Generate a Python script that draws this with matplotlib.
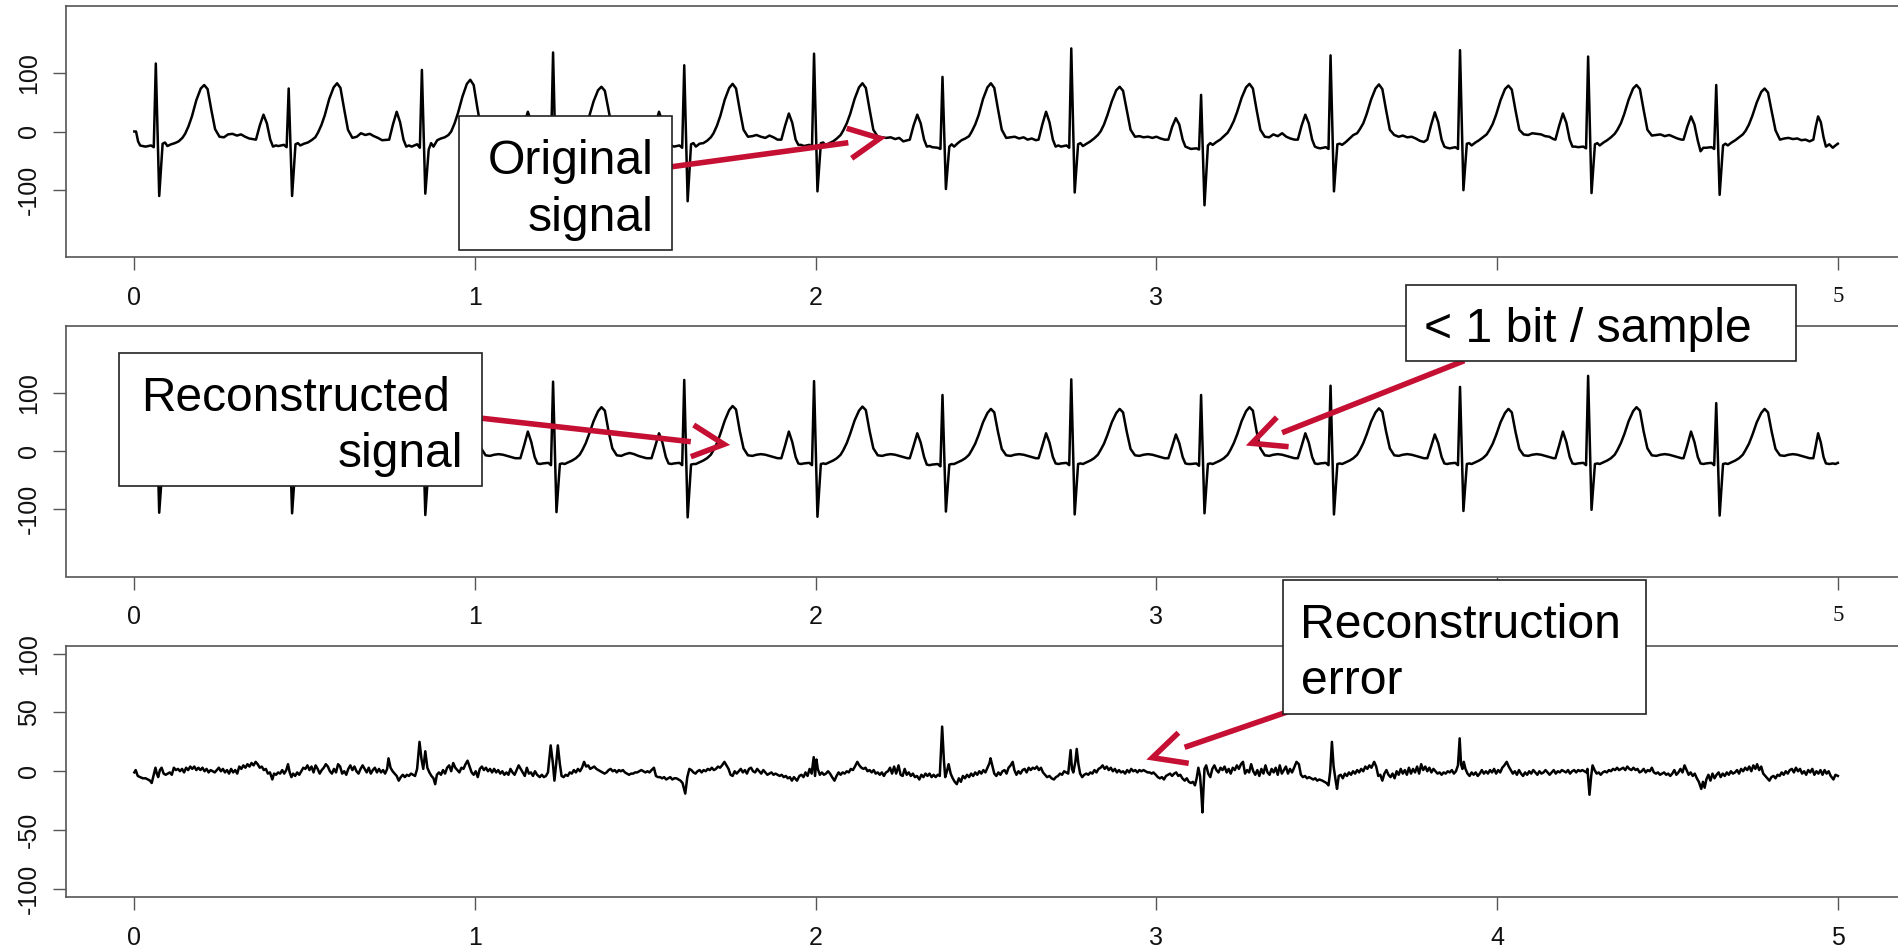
import numpy as np
import matplotlib
matplotlib.use('Agg')
import matplotlib.pyplot as plt
from matplotlib.lines import Line2D
from matplotlib.patches import Rectangle

plt.rcParams['font.family'] = ['Liberation Sans', 'DejaVu Sans']
plt.rcParams['axes.unicode_minus'] = False

W, H = 1899, 952

# ---------------- data ----------------
x_ticks = [0, 1, 2, 3, 4, 5]
# the "4" label of the two upper panels is hidden behind the annotation boxes
x_tick_labels_top = ['0', '1', '2', '3', '', '5']
x_tick_labels = ['0', '1', '2', '3', '4', '5']
y_ticks_sig = [-100, 0, 100]
y_tick_labels_sig = ['-100', '0', '100']
y_ticks_err = [-100, -50, 0, 50, 100]
y_tick_labels_err = ['-100', '-50', '0', '50', '100']

# R-peak times of the 13 beats (s)
beat_r_times = [0.063, 0.453, 0.844, 1.229, 1.614, 1.995, 2.372,
                2.750, 3.131, 3.511, 3.891, 4.267, 4.643]
# time of each vertex relative to the beat's R peak (P wave, PR, QRS, ST, T, baseline)
beat_offsets = [-0.096, -0.085, -0.074, -0.064, -0.054, -0.046, -0.038, -0.030,
                -0.014, -0.006, 0.000, 0.010, 0.020, 0.027, 0.034, 0.045,
                0.056, 0.067, 0.078, 0.086, 0.096, 0.106, 0.119, 0.132,
                0.142, 0.152, 0.163, 0.174, 0.187, 0.200, 0.212, 0.225,
                0.238, 0.250, 0.262, 0.274]

orig_lead_t = [0.000, 0.005, 0.011, 0.017, 0.024]
orig_lead_v = [0, 0, -17, -24, -25]
orig_beats = [
    [None, None, None, None, None, None, None, -26, -24, -27, 117, -111, -21, -19, -25, -22, -20, -17, -11, -4, 9, 26, 54, 74, 80, 73, 37, 4, -9, -10, -5, -4, -7, -5, -9, -12],
    [-14, 10, 29, 14, -14, -26, -24, -25, -23, -27, 74, -111, -22, -20, -24, -21, -19, -15, -10, -2, 11, 28, 56, 76, 83, 75, 38, 3, -11, -9, -3, -6, -4, -8, -11, -15],
    [-14, 12, 34, 16, -14, -26, -24, -26, -22, -28, 106, -107, -31, -20, -26, -15, -12, -10, -6, 0, 14, 32, 60, 82, 89, 80, 40, 4, -9, -10, -6, -8, -4, -9, -12, -15],
    [-14, 12, 34, 16, -15, -26, -24, -26, -24, -28, 136, -112, -22, -20, -25, -21, -19, -16, -10, -3, 10, 26, 52, 71, 77, 70, 36, 3, -9, -11, -5, -8, -3, -8, -10, -14],
    [-14, 12, 34, 16, -14, -26, -24, -26, -24, -28, 114, -120, -22, -20, -26, -21, -20, -16, -10, -3, 10, 27, 55, 75, 82, 74, 37, 3, -9, -8, -6, -9, -11, -7, -10, -14],
    [-14, 10, 31, 15, -14, -23, -23, -25, -23, -27, 134, -103, -20, -19, -24, -20, -17, -12, -6, 2, 14, 30, 56, 76, 83, 75, 38, 3, -9, -10, -11, -10, -13, -11, -17, -15],
    [-14, 10, 29, 14, -14, -26, -25, -27, -28, -30, 94, -99, -26, -22, -26, -20, -15, -12, -8, 0, 12, 28, 56, 76, 83, 75, 38, 3, -11, -10, -9, -12, -10, -14, -12, -15],
    [-14, 12, 34, 16, -14, -26, -24, -26, -24, -28, 143, -105, -22, -20, -25, -21, -17, -12, -6, 0, 12, 28, 52, 71, 77, 70, 36, 3, -9, -8, -10, -9, -11, -9, -12, -14],
    [-14, 8, 23, 12, -14, -26, -28, -30, -29, -31, 63, -127, -24, -20, -23, -18, -14, -8, -2, 6, 18, 34, 58, 76, 82, 74, 37, 3, -9, -10, -5, -8, -3, -9, -12, -14],
    [-14, 10, 29, 14, -14, -26, -28, -29, -27, -30, 131, -103, -22, -21, -23, -18, -12, -6, -3, 4, 14, 30, 55, 74, 81, 73, 37, 3, -6, -9, -7, -10, -9, -12, -16, -18],
    [-14, 11, 33, 16, -14, -26, -28, -29, -27, -30, 140, -101, -21, -20, -24, -19, -15, -10, -5, 2, 13, 29, 54, 73, 79, 72, 36, 3, -5, -6, -3, -4, -5, -8, -9, -13],
    [-14, 10, 31, 15, -14, -26, -26, -27, -26, -29, 129, -106, -22, -20, -24, -19, -15, -10, -4, 3, 14, 30, 55, 74, 80, 73, 37, 3, -7, -6, -5, -8, -6, -9, -12, -14],
    [-14, 8, 26, 12, -16, -34, -28, -28, -27, -30, 80, -109, -24, -21, -24, -19, -15, -10, -5, 1, 12, 27, 50, 68, 74, 67, 34, 2, -14, -12, -11, -13, -12, -15, -14, -17],
]
orig_tail_t = [4.928, 4.935, 4.942, 4.950, 4.958, 4.965, 4.975, 4.985, 4.993, 5.000]
orig_tail_v = [-14, 8, 26, 16, -10, -26, -22, -28, -24, -21]

recon_lead_t = [0.000, 0.005, 0.011, 0.017, 0.024]
recon_lead_v = [0, 0, -15, -20, -21]
recon_beats = [
    [None, None, None, None, None, None, None, -21, -20, -24, 115, -106, -22, -21, -22, -19, -16, -12, -6, 2, 14, 30, 54, 72, 80, 74, 36, 5, -7, -8, -6, -5, -6, -8, -10, -12],
    [-12, 9, 30, 14, -10, -21, -22, -21, -20, -24, 80, -107, -22, -21, -22, -19, -16, -12, -6, 2, 14, 30, 54, 72, 80, 74, 36, 5, -7, -8, -6, -5, -6, -8, -10, -12],
    [-12, 9, 31, 15, -10, -21, -22, -21, -20, -24, 105, -110, -22, -21, -22, -19, -16, -12, -6, 2, 14, 30, 54, 72, 80, 74, 36, 5, -7, -8, -6, -5, -6, -8, -10, -12],
    [-12, 10, 34, 16, -10, -21, -22, -21, -20, -24, 120, -105, -22, -21, -22, -19, -16, -12, -6, 2, 14, 30, 52, 69, 76, 70, 34, 5, -7, -8, -5, -3, -5, -8, -10, -12],
    [-12, 9, 31, 15, -10, -21, -22, -21, -20, -24, 123, -114, -23, -22, -22, -19, -16, -12, -6, 2, 14, 30, 53, 71, 78, 72, 35, 5, -7, -8, -6, -5, -6, -8, -10, -12],
    [-12, 10, 34, 16, -10, -21, -22, -21, -20, -24, 121, -113, -22, -21, -22, -19, -16, -12, -6, 2, 14, 30, 53, 70, 77, 71, 35, 5, -7, -8, -6, -5, -6, -8, -10, -12],
    [-12, 9, 31, 15, -10, -23, -24, -23, -22, -26, 97, -104, -23, -22, -22, -19, -16, -12, -6, 2, 13, 28, 50, 66, 73, 67, 33, 4, -7, -8, -6, -5, -6, -8, -10, -12],
    [-12, 9, 31, 15, -10, -21, -22, -21, -20, -24, 124, -109, -22, -21, -22, -19, -16, -12, -6, 2, 13, 28, 50, 66, 73, 67, 33, 4, -7, -8, -6, -5, -6, -8, -10, -12],
    [-12, 8, 29, 14, -10, -21, -22, -22, -21, -25, 97, -107, -22, -21, -22, -19, -16, -12, -6, 2, 14, 29, 52, 69, 76, 70, 34, 5, -7, -8, -6, -5, -6, -8, -10, -12],
    [-12, 9, 31, 15, -10, -21, -22, -21, -20, -24, 113, -109, -22, -21, -22, -19, -16, -12, -6, 2, 14, 29, 51, 67, 74, 68, 34, 5, -7, -8, -6, -5, -6, -8, -10, -12],
    [-12, 8, 29, 14, -10, -21, -22, -21, -20, -24, 111, -103, -22, -21, -22, -19, -16, -12, -6, 2, 13, 28, 50, 66, 73, 67, 33, 4, -7, -8, -6, -5, -6, -8, -10, -12],
    [-12, 10, 34, 16, -10, -21, -22, -21, -20, -24, 130, -101, -22, -21, -22, -19, -16, -12, -6, 2, 14, 29, 52, 69, 76, 70, 34, 5, -7, -8, -6, -5, -6, -8, -10, -12],
    [-12, 10, 34, 16, -10, -21, -22, -21, -20, -24, 83, -111, -22, -21, -22, -19, -16, -12, -6, 2, 13, 28, 50, 66, 73, 67, 33, 4, -7, -8, -6, -5, -6, -8, -10, -12],
]
recon_tail_t = [4.928, 4.935, 4.942, 4.950, 4.958, 4.965, 4.975, 4.985, 4.993, 5.000]
recon_tail_v = [-12, 9, 31, 15, -10, -21, -22, -21, -22, -20]

# reconstruction error (time, value)
error_samples = [
    (0.000, -1), (0.004, 1), (0.010, -4), (0.017, -5), (0.025, -6), (0.033, -6), (0.040, -7), (0.046, -8),
    (0.051, -10), (0.056, -4), (0.062, 3), (0.066, -2), (0.070, -5), (0.075, 1), (0.080, 3), (0.086, -2),
    (0.092, -3), (0.098, -2), (0.104, -1), (0.110, -3), (0.116, 3), (0.122, 1), (0.128, 2), (0.134, 0),
    (0.140, 2), (0.146, -1), (0.152, 3), (0.158, 1), (0.164, 4), (0.170, 2), (0.176, 4), (0.182, 1),
    (0.188, 3), (0.194, 1), (0.200, 3), (0.206, 0), (0.212, 2), (0.218, -1), (0.224, 1), (0.230, 0),
    (0.236, -1), (0.242, 1), (0.248, 3), (0.254, 0), (0.260, 2), (0.266, -1), (0.272, 1), (0.278, -2),
    (0.284, 2), (0.290, -1), (0.296, 1), (0.302, -2), (0.308, 4), (0.314, 2), (0.320, 5), (0.326, 3),
    (0.332, 6), (0.338, 4), (0.344, 7), (0.350, 5), (0.356, 8), (0.362, 6), (0.368, 3), (0.374, 4),
    (0.380, 1), (0.386, 2), (0.392, -2), (0.398, -1), (0.405, -7), (0.410, -2), (0.416, -3), (0.422, -1),
    (0.428, -2), (0.434, 1), (0.440, -2), (0.446, 1), (0.451, 6), (0.456, -1), (0.461, -5), (0.466, -2),
    (0.472, -4), (0.478, -1), (0.484, -3), (0.490, 0), (0.496, 3), (0.502, 2), (0.508, 5), (0.514, 1),
    (0.520, 4), (0.526, -1), (0.532, 5), (0.538, 2), (0.544, -2), (0.550, 1), (0.556, 3), (0.562, 6),
    (0.568, 4), (0.574, 0), (0.580, -2), (0.586, 2), (0.592, -1), (0.598, 6), (0.604, 4), (0.610, -2),
    (0.616, 0), (0.622, -3), (0.628, 2), (0.634, 5), (0.640, 1), (0.646, 4), (0.652, 0), (0.658, -2),
    (0.664, 2), (0.670, 5), (0.676, 2), (0.682, -1), (0.688, 3), (0.694, -2), (0.700, 1), (0.706, 3),
    (0.712, -1), (0.718, 2), (0.724, -1), (0.730, 1), (0.736, -2), (0.742, 2), (0.746, 11), (0.752, 3),
    (0.758, 0), (0.764, -2), (0.770, -4), (0.776, -8), (0.782, -5), (0.788, -3), (0.794, -5), (0.800, -3),
    (0.806, -4), (0.812, -2), (0.818, -3), (0.824, -4), (0.830, 2), (0.837, 25), (0.843, 10), (0.848, 2),
    (0.854, 17), (0.860, 3), (0.866, -1), (0.872, -4), (0.878, -6), (0.883, -11), (0.888, -3), (0.894, -1),
    (0.900, -3), (0.906, 1), (0.912, -2), (0.918, 3), (0.924, 5), (0.930, 0), (0.936, 7), (0.942, 3),
    (0.948, 1), (0.954, -1), (0.960, 3), (0.966, 2), (0.972, 6), (0.978, 9), (0.984, 4), (0.990, -1),
    (0.996, -3), (1.002, 0), (1.008, -5), (1.014, 2), (1.020, 4), (1.026, 1), (1.032, 3), (1.038, 0),
    (1.044, 2), (1.050, -1), (1.056, 2), (1.062, -1), (1.068, 1), (1.074, -2), (1.080, 0), (1.086, -3),
    (1.092, -1), (1.098, -3), (1.104, 2), (1.110, -1), (1.116, -3), (1.122, 1), (1.128, 5), (1.134, 2),
    (1.140, -1), (1.146, -4), (1.152, 3), (1.158, -2), (1.164, -1), (1.170, -4), (1.176, 0), (1.182, -3),
    (1.190, -5), (1.196, -3), (1.202, -5), (1.208, -4), (1.214, -1), (1.222, 22), (1.228, 8), (1.233, -8),
    (1.238, 6), (1.243, 22), (1.249, 6), (1.254, -4), (1.260, -5), (1.266, -3), (1.272, -4), (1.278, -1),
    (1.284, -2), (1.290, 1), (1.296, -1), (1.302, 2), (1.308, 0), (1.314, 3), (1.320, 8), (1.326, 4),
    (1.332, 5), (1.338, 2), (1.344, 3), (1.350, 4), (1.356, 2), (1.362, 1), (1.368, 0), (1.374, -1),
    (1.380, -2), (1.386, -1), (1.392, 1), (1.398, 2), (1.404, 0), (1.410, 1), (1.416, -1), (1.422, 1),
    (1.428, 0), (1.434, 1), (1.440, -1), (1.446, -2), (1.452, -3), (1.458, -2), (1.464, -2), (1.470, -1),
    (1.476, -1), (1.482, 0), (1.488, 1), (1.494, 0), (1.500, -1), (1.506, 0), (1.512, -1), (1.518, 1),
    (1.525, 3), (1.531, -4), (1.537, -5), (1.543, -5), (1.549, -6), (1.555, -5), (1.561, -7), (1.567, -6),
    (1.573, -5), (1.579, -7), (1.585, -6), (1.591, -6), (1.597, -7), (1.603, -8), (1.609, -10), (1.617, -19),
    (1.623, -5), (1.629, 2), (1.635, 1), (1.641, -1), (1.647, -2), (1.653, 0), (1.659, 1), (1.665, -1),
    (1.671, 1), (1.677, 0), (1.683, 2), (1.689, 1), (1.695, 3), (1.701, 1), (1.707, 2), (1.713, 4),
    (1.719, 3), (1.725, 5), (1.732, 8), (1.738, 5), (1.744, 2), (1.750, -3), (1.756, -4), (1.762, 0),
    (1.768, -2), (1.774, 0), (1.780, 2), (1.786, -1), (1.792, 1), (1.798, -2), (1.804, 2), (1.810, 3),
    (1.816, 0), (1.822, -1), (1.828, 2), (1.834, 0), (1.840, -2), (1.846, 1), (1.852, -1), (1.858, -3),
    (1.864, -2), (1.870, -1), (1.876, -3), (1.882, -2), (1.888, -3), (1.894, -4), (1.900, -3), (1.906, -5),
    (1.912, -4), (1.918, -6), (1.924, -5), (1.930, -8), (1.936, -5), (1.945, -8), (1.952, -4), (1.958, -3),
    (1.964, -5), (1.970, -1), (1.976, -4), (1.982, 2), (1.988, -2), (1.994, 12), (1.998, -4), (2.002, 10),
    (2.006, 2), (2.012, -3), (2.018, -1), (2.024, -3), (2.030, -2), (2.036, 0), (2.042, -2), (2.048, -5),
    (2.055, -8), (2.061, -4), (2.067, -1), (2.073, -3), (2.079, -1), (2.085, -2), (2.091, 0), (2.097, -1),
    (2.103, 2), (2.109, 1), (2.115, 4), (2.122, 8), (2.128, 5), (2.134, 3), (2.140, 2), (2.146, 3),
    (2.152, 0), (2.158, 1), (2.164, -1), (2.170, 1), (2.176, -2), (2.182, -1), (2.188, -3), (2.194, -1),
    (2.200, -4), (2.206, -1), (2.212, 0), (2.218, 3), (2.224, -2), (2.230, 4), (2.236, -2), (2.243, 5),
    (2.249, -3), (2.255, -4), (2.261, 2), (2.267, -3), (2.273, -1), (2.279, -4), (2.285, -2), (2.291, -5),
    (2.297, -4), (2.304, -7), (2.310, -3), (2.316, -5), (2.322, -2), (2.328, -4), (2.334, -2), (2.340, -5),
    (2.346, -3), (2.352, -5), (2.358, -3), (2.364, -4), (2.371, 38), (2.376, 10), (2.380, -5), (2.385, 0),
    (2.390, 6), (2.396, -2), (2.402, -6), (2.408, -9), (2.414, -11), (2.420, -6), (2.426, -9), (2.432, -4),
    (2.438, -6), (2.444, -3), (2.450, -5), (2.456, -2), (2.462, -4), (2.468, -1), (2.474, -3), (2.480, 0),
    (2.486, -2), (2.492, 1), (2.498, -1), (2.504, 3), (2.510, 7), (2.513, 11), (2.518, 5), (2.524, -2),
    (2.530, -4), (2.536, -1), (2.542, -3), (2.548, 0), (2.554, 1), (2.560, -2), (2.566, 3), (2.572, 5),
    (2.578, 8), (2.583, 1), (2.589, -3), (2.595, 0), (2.601, -2), (2.607, 1), (2.613, 2), (2.619, -1),
    (2.625, 3), (2.631, 1), (2.637, 3), (2.643, 2), (2.649, 4), (2.655, 1), (2.661, 3), (2.667, -1),
    (2.673, -3), (2.679, -5), (2.686, -4), (2.692, -6), (2.699, -7), (2.705, -5), (2.711, -4), (2.717, -2),
    (2.723, -3), (2.729, 0), (2.735, -1), (2.741, -2), (2.748, 18), (2.752, 2), (2.756, -1), (2.762, 8),
    (2.766, 19), (2.771, 6), (2.776, -2), (2.782, -5), (2.788, -3), (2.794, -2), (2.800, -3), (2.806, -1),
    (2.812, -2), (2.818, 1), (2.824, -1), (2.830, 2), (2.836, 3), (2.842, 5), (2.848, 2), (2.854, 4),
    (2.860, 1), (2.866, 3), (2.872, 0), (2.878, 2), (2.884, -1), (2.890, 1), (2.896, -1), (2.902, 0),
    (2.908, -2), (2.914, 1), (2.920, -1), (2.926, 2), (2.932, 0), (2.938, 1), (2.944, -1), (2.950, 1),
    (2.956, 0), (2.962, 1), (2.968, 0), (2.974, -1), (2.980, -1), (2.986, -2), (2.991, -1), (2.998, -3),
    (3.004, -5), (3.010, -6), (3.016, -5), (3.022, -7), (3.028, -4), (3.034, -3), (3.040, -2), (3.046, -4),
    (3.052, -2), (3.058, -1), (3.064, -4), (3.070, -3), (3.076, -6), (3.083, -8), (3.089, -6), (3.095, -9),
    (3.101, -10), (3.107, -9), (3.113, -12), (3.118, -6), (3.123, 3), (3.128, -4), (3.132, -20), (3.135, -35),
    (3.138, -15), (3.141, 2), (3.146, 5), (3.152, -2), (3.158, -5), (3.164, 2), (3.170, 5), (3.176, 1),
    (3.182, -1), (3.188, 3), (3.194, 1), (3.200, 4), (3.206, -1), (3.212, 2), (3.218, -2), (3.224, 3),
    (3.230, 1), (3.236, 5), (3.242, 2), (3.248, 6), (3.254, 8), (3.260, -2), (3.266, 1), (3.272, -1),
    (3.278, 6), (3.284, 0), (3.290, -3), (3.296, 1), (3.302, -4), (3.308, 2), (3.314, -2), (3.320, 5),
    (3.326, -1), (3.332, -3), (3.338, 2), (3.344, -1), (3.350, 3), (3.356, -3), (3.362, 5), (3.368, -2),
    (3.374, 1), (3.380, 4), (3.386, -2), (3.392, 2), (3.398, -1), (3.404, 3), (3.411, 8), (3.418, 6),
    (3.424, -3), (3.430, -5), (3.436, -4), (3.442, -6), (3.448, -5), (3.454, -6), (3.460, -7), (3.466, -6),
    (3.472, -8), (3.478, -7), (3.487, -8), (3.493, -9), (3.499, -10), (3.505, -12), (3.510, 0), (3.515, 25),
    (3.520, 4), (3.526, -8), (3.530, -15), (3.535, -4), (3.541, -3), (3.547, -6), (3.553, -2), (3.559, -4),
    (3.565, -1), (3.571, -3), (3.577, 0), (3.583, -2), (3.589, 1), (3.595, -1), (3.601, 2), (3.607, 0),
    (3.613, 4), (3.619, 2), (3.625, 5), (3.631, 3), (3.639, 8), (3.645, 4), (3.651, -4), (3.657, -3),
    (3.663, -8), (3.669, -2), (3.675, 1), (3.681, -3), (3.687, -5), (3.693, -2), (3.699, -6), (3.705, 0),
    (3.711, -3), (3.717, 2), (3.723, -2), (3.729, 1), (3.735, -3), (3.741, 3), (3.747, -2), (3.753, 2),
    (3.759, -1), (3.765, 4), (3.771, -2), (3.777, 6), (3.783, 1), (3.789, 4), (3.795, 0), (3.801, 3),
    (3.807, -1), (3.813, 2), (3.819, 0), (3.825, -2), (3.831, -1), (3.837, -3), (3.843, -1), (3.849, -2),
    (3.855, 0), (3.861, -1), (3.867, 1), (3.873, -2), (3.879, 0), (3.885, 5), (3.890, 28), (3.894, 6),
    (3.898, 2), (3.902, 8), (3.907, 2), (3.913, -2), (3.919, -4), (3.925, -1), (3.931, -3), (3.937, -1),
    (3.943, -4), (3.949, -2), (3.955, 1), (3.961, -2), (3.967, 0), (3.973, -2), (3.979, 1), (3.985, -1),
    (3.991, 2), (3.997, -2), (4.003, 1), (4.009, -1), (4.015, 3), (4.021, 5), (4.028, 8), (4.034, 4),
    (4.040, 1), (4.046, -2), (4.052, 0), (4.058, -3), (4.064, 1), (4.070, -2), (4.076, -4), (4.082, -1),
    (4.088, -3), (4.094, 0), (4.100, -2), (4.106, 1), (4.112, -1), (4.118, -3), (4.124, 0), (4.130, -2),
    (4.136, -1), (4.142, 1), (4.148, -1), (4.154, -3), (4.160, -1), (4.166, 1), (4.172, -2), (4.178, 0),
    (4.184, -1), (4.190, 1), (4.196, 0), (4.202, -1), (4.208, 1), (4.214, -2), (4.220, 0), (4.226, 1),
    (4.232, -1), (4.238, 1), (4.244, 0), (4.250, 1), (4.256, 0), (4.262, -1), (4.265, 2), (4.271, -20),
    (4.276, -4), (4.280, 5), (4.286, 1), (4.292, -2), (4.298, -1), (4.304, -3), (4.310, -1), (4.316, 0),
    (4.322, -1), (4.328, 1), (4.334, 0), (4.340, 2), (4.346, 1), (4.352, 3), (4.358, 1), (4.364, 2),
    (4.370, 3), (4.376, 1), (4.382, 4), (4.388, 2), (4.394, 1), (4.400, 3), (4.406, 1), (4.412, 2),
    (4.418, -1), (4.424, 0), (4.430, 2), (4.436, -1), (4.442, 1), (4.448, 0), (4.454, 3), (4.460, -1),
    (4.466, -2), (4.472, -1), (4.478, -3), (4.484, -2), (4.490, -1), (4.496, -3), (4.502, -2), (4.508, -4),
    (4.514, -2), (4.520, 1), (4.526, -3), (4.532, -1), (4.538, 2), (4.544, -1), (4.550, 5), (4.556, 1),
    (4.562, -3), (4.568, -1), (4.574, -4), (4.580, -2), (4.586, -6), (4.592, -9), (4.599, -15), (4.604, -9),
    (4.609, -14), (4.614, -7), (4.620, -3), (4.626, -8), (4.632, -2), (4.638, -6), (4.644, -3), (4.650, -1),
    (4.656, -5), (4.662, -2), (4.668, -4), (4.674, -1), (4.680, -3), (4.686, 0), (4.692, -2), (4.698, -1),
    (4.704, 1), (4.710, -2), (4.716, 2), (4.722, 0), (4.728, 3), (4.734, 1), (4.740, 4), (4.746, 0),
    (4.752, 5), (4.758, 2), (4.763, 6), (4.769, 1), (4.775, 4), (4.781, -2), (4.787, -4), (4.793, -6),
    (4.799, -8), (4.805, -5), (4.811, -4), (4.817, -6), (4.823, -3), (4.829, -4), (4.835, -1), (4.841, -3),
    (4.847, 0), (4.853, -2), (4.859, 1), (4.865, 2), (4.871, -1), (4.877, 3), (4.883, 0), (4.889, 2),
    (4.895, -2), (4.901, 0), (4.907, -3), (4.913, 1), (4.919, -1), (4.925, 2), (4.931, -3), (4.937, 0),
    (4.943, -2), (4.949, 1), (4.955, -3), (4.961, 1), (4.967, -2), (4.973, 0), (4.979, -4), (4.987, -7),
    (4.993, -3), (5.000, -4),
]

annotation_texts = ['Original', 'signal', 'Reconstructed', 'signal', '< 1 bit / sample',
                    'Reconstruction', 'error']


def assemble(lead_t, lead_v, rows, tail_t, tail_v):
    t = list(lead_t)
    v = list(lead_v)
    for r, row in zip(beat_r_times, rows):
        for off, val in zip(beat_offsets, row):
            if val is None:
                continue
            t.append(r + off)
            v.append(val)
    t += list(tail_t)
    v += list(tail_v)
    return np.array(t), np.array(v)


orig_t, orig_v = assemble(orig_lead_t, orig_lead_v, orig_beats, orig_tail_t, orig_tail_v)
recon_t, recon_v = assemble(recon_lead_t, recon_lead_v, recon_beats, recon_tail_t, recon_tail_v)
err_t = np.array([p[0] for p in error_samples])
err_v = np.array([p[1] for p in error_samples])

# ---------------- figure ----------------
fig = plt.figure(figsize=(W / 100, H / 100), dpi=100)

left = 66.2 / W
width = 1839.8 / W


def rect(top_px, bottom_px):
    return [left, 1 - bottom_px / H, width, (bottom_px - top_px) / H]


panels = [
    (rect(6, 257), orig_t, orig_v, (-216, 216), y_ticks_sig, y_tick_labels_sig, x_tick_labels_top, True),
    (rect(326, 576.5), recon_t, recon_v, (-216, 216), y_ticks_sig, y_tick_labels_sig, x_tick_labels_top, True),
    (rect(645.5, 897), err_t, err_v, (-107, 107), y_ticks_err, y_tick_labels_err, x_tick_labels, False),
]

frame_col = '#555555'
for r, t, v, ylim, yt, ytl, xtl, odd5 in panels:
    ax = fig.add_axes(r)
    ax.plot(t, v, color='black', lw=1.8, solid_joinstyle='round')
    ax.set_xlim(-0.2, 5.2)
    ax.set_ylim(*ylim)
    ax.set_xticks(x_ticks)
    ax.set_xticklabels(xtl)
    ax.set_yticks(yt)
    ax.set_yticklabels(ytl, rotation=90, va='center')
    for s in ax.spines.values():
        s.set_color(frame_col)
        s.set_linewidth(1.2)
    ax.tick_params(axis='both', direction='out', length=9.7, width=1.0,
                   color=frame_col, labelsize=18, labelcolor='#111111')
    ax.tick_params(axis='x', pad=11)
    ax.tick_params(axis='y', pad=8.5)
    if odd5:
        lab = ax.get_xticklabels()[-1]
        lab.set_fontfamily(['Liberation Serif', 'DejaVu Serif'])
        lab.set_fontsize(16.5)

# ---------------- overlay (annotations in pixel coordinates) ----------------
ov = fig.add_axes([0, 0, 1, 1], zorder=10)
ov.set_xlim(0, W)
ov.set_ylim(H, 0)
ov.axis('off')
ov.patch.set_alpha(0)

red = '#C50F33'
arrow_lw = 4.0
arrows = [
    ((672, 166.7), (848.3, 142.7), (846.7, 128.3), (880, 138.3), (851.7, 158.3)),
    ((482.3, 418.3), (690.8, 441.7), (693.7, 425), (724, 444.3), (690.8, 456.7)),
    ((1464.3, 360.7), (1282.1, 432.7), (1276.8, 417.3), (1251.8, 443.3), (1288.6, 446.7)),
    ((1290, 711), (1184.6, 747.3), (1178.4, 732.7), (1152.3, 757.7), (1188.7, 763.3)),
]
for tail, send, w1, tip, w2 in arrows:
    ov.add_line(Line2D([tail[0], send[0]], [tail[1], send[1]], color=red, lw=arrow_lw,
                       solid_capstyle='butt', zorder=2))
    ov.add_line(Line2D([w1[0], tip[0], w2[0]], [w1[1], tip[1], w2[1]], color=red, lw=arrow_lw,
                       solid_capstyle='butt', solid_joinstyle='miter', zorder=2))

boxes = [
    (459.3, 116, 672.3, 250),
    (118.7, 352.7, 482.3, 486),
    (1406, 285, 1796.4, 360.7),
    (1283.2, 580, 1646.4, 714),
]
for x0, y0, x1, y1 in boxes:
    ov.add_patch(Rectangle((x0, y0), x1 - x0, y1 - y0, facecolor='white',
                           edgecolor='#222222', lw=1.2, zorder=3))

texts = [
    (annotation_texts[0], 654, 174, 'right', 34.7),
    (annotation_texts[1], 654, 230.7, 'right', 34.7),
    (annotation_texts[2], 450, 410.7, 'right', 34.5),
    (annotation_texts[3], 463, 466.7, 'right', 34.5),
    (annotation_texts[4], 1424, 341.7, 'left', 34.7),
    (annotation_texts[5], 1300, 637.7, 'left', 34.7),
    (annotation_texts[6], 1301, 694.3, 'left', 34.7),
]
for s, x, y, ha, fs in texts:
    ov.text(x, y, s, ha=ha, va='baseline', fontsize=fs, color='black', zorder=4)

fig.savefig('out.png', dpi=100)
